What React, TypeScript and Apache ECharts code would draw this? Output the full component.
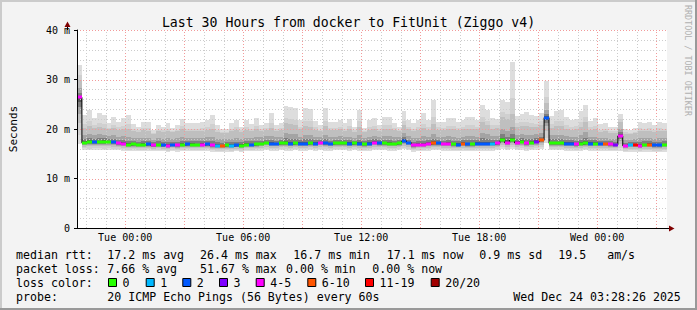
import { useEffect, useRef } from 'react';
import * as echarts from 'echarts';

const TITLE = 'Last 30 Hours from docker to FitUnit (Ziggo v4)';
const WATERMARK = 'RRDTOOL / TOBI OETIKER';
const Y_NAME = 'Seconds';
const SPAN_HOURS = 30;
const BUCKET_HOURS = 0.25;
const FIRST_CLOCK_HOUR = 22; // first full hour after the start (21:33)
const FIRST_HOUR_OFFSET = 0.45; // hours from start to 22:00
const TIME_LABELS = ['Tue 00:00', 'Tue 06:00', 'Tue 12:00', 'Tue 18:00', 'Wed 00:00'];
const TIME_LABEL_HOURS = [2.45, 8.45, 14.45, 20.45, 26.45];

// per-bucket ping statistics (ms), 15 min buckets
const MAX_RTT = [
  33.0, 22.9, 23.9, 22.3, 23.2, 22.9, 21.2, 22.5, 21.5, 22.2,
  22.9, 21.0, 20.5, 21.5, 21.5, 19.8, 20.8, 20.5, 21.2, 20.2,
  20.8, 22.1, 21.2, 21.2, 21.2, 21.5, 21.9, 22.9, 20.8, 20.0,
  20.0, 21.2, 21.8, 20.5, 21.8, 21.0, 22.2, 20.8, 21.2, 23.2,
  20.8, 21.3, 24.7, 24.5, 24.2, 21.9, 24.2, 24.0, 21.7, 20.8,
  24.2, 21.5, 21.4, 21.9, 21.2, 22.0, 20.5, 23.9, 20.2, 21.8,
  22.2, 20.8, 22.4, 22.5, 21.2, 20.5, 23.6, 21.8, 21.2, 21.9,
  23.2, 21.9, 25.8, 21.5, 21.4, 22.2, 22.2, 21.5, 21.9, 22.4,
  22.4, 21.8, 24.9, 23.8, 22.2, 22.1, 25.9, 25.5, 33.6, 22.7,
  23.0, 23.4, 22.8, 22.7, 23.3, 29.6, 22.7, 23.7, 23.9, 22.4,
  21.9, 22.0, 23.6, 24.9, 21.7, 22.2, 21.0, 21.2, 20.5, 20.5,
  23.1, 20.1, 19.7, 20.2, 21.5, 21.2, 21.5, 20.8, 21.5, 21.2,
];
const UPPER_RTT = [
  30.0, 20.3, 20.6, 20.2, 20.5, 20.3, 19.9, 20.2, 19.8, 20.0,
  20.1, 19.6, 19.4, 19.7, 19.6, 19.0, 19.5, 19.4, 19.6, 19.3,
  19.5, 19.9, 19.6, 19.6, 19.5, 19.6, 19.8, 20.1, 19.4, 19.2,
  19.2, 19.5, 19.7, 19.4, 19.7, 19.5, 19.9, 19.6, 19.8, 20.3,
  19.6, 19.8, 21.3, 21.0, 20.8, 19.9, 20.6, 20.5, 19.8, 19.5,
  20.6, 19.7, 19.7, 19.9, 19.6, 19.9, 19.4, 20.5, 19.3, 19.8,
  20.0, 19.6, 20.1, 20.1, 19.7, 19.5, 20.8, 19.9, 19.5, 19.7,
  20.2, 19.8, 21.0, 19.8, 19.7, 20.0, 19.9, 19.7, 19.9, 20.1,
  20.1, 19.9, 21.5, 20.8, 20.1, 20.2, 22.5, 22.0, 23.0, 20.5,
  20.6, 20.6, 20.4, 20.4, 20.8, 25.2, 20.3, 20.6, 20.6, 20.0,
  19.8, 19.9, 20.4, 21.5, 19.8, 19.9, 19.4, 19.5, 19.2, 19.2,
  21.5, 19.0, 18.9, 19.1, 19.6, 19.5, 19.6, 19.4, 19.6, 19.5,
];
const MEDIAN_RTT = [
  26.4, 17.2, 17.4, 17.3, 17.3, 17.4, 17.4, 17.3, 17.1, 17.0,
  16.8, 16.9, 16.8, 16.8, 16.9, 16.7, 16.8, 16.7, 16.6, 16.8,
  16.7, 16.8, 16.9, 16.8, 16.8, 16.8, 16.9, 16.7, 16.6, 16.6,
  16.7, 16.6, 16.7, 16.6, 16.8, 16.8, 16.9, 17.0, 17.2, 17.0,
  17.0, 17.1, 17.1, 17.0, 17.1, 17.0, 17.0, 17.1, 17.0, 17.2,
  17.1, 17.0, 17.1, 17.1, 17.1, 17.0, 17.1, 17.0, 16.9, 17.0,
  17.2, 17.1, 17.1, 17.0, 17.0, 17.1, 17.6, 17.2, 16.7, 16.8,
  16.8, 17.0, 17.1, 17.1, 17.0, 17.0, 16.9, 16.8, 17.0, 16.9,
  16.9, 17.0, 17.0, 17.0, 17.0, 17.1, 17.7, 17.2, 17.7, 17.2,
  17.4, 17.1, 17.2, 17.4, 17.7, 22.3, 17.1, 17.1, 17.1, 17.0,
  17.0, 16.9, 17.0, 17.1, 17.0, 17.0, 17.0, 17.0, 16.9, 16.8,
  18.6, 16.6, 16.8, 16.8, 16.6, 16.8, 16.8, 16.7, 16.7, 16.8,
];
const MIN_RTT = [
  17.0, 15.8, 15.7, 15.8, 15.8, 15.7, 15.8, 15.7, 15.7, 15.6,
  15.5, 15.6, 15.5, 15.5, 15.6, 15.5, 15.5, 15.5, 15.4, 15.5,
  15.4, 15.5, 15.6, 15.5, 15.5, 15.5, 15.6, 15.4, 15.4, 15.3,
  15.4, 15.4, 15.5, 15.4, 15.5, 15.5, 15.6, 15.6, 15.7, 15.6,
  15.6, 15.7, 15.6, 15.6, 15.7, 15.6, 15.6, 15.7, 15.6, 15.7,
  15.6, 15.6, 15.7, 15.7, 15.7, 15.6, 15.7, 15.6, 15.5, 15.6,
  15.7, 15.7, 15.7, 15.6, 15.6, 15.7, 15.9, 15.7, 15.4, 15.5,
  15.5, 15.6, 15.7, 15.7, 15.6, 15.6, 15.5, 15.5, 15.6, 15.5,
  15.5, 15.6, 15.6, 15.6, 15.6, 15.7, 16.0, 15.7, 16.0, 15.7,
  15.8, 15.6, 15.7, 15.8, 16.0, 17.2, 15.7, 15.7, 15.7, 15.6,
  15.6, 15.5, 15.6, 15.7, 15.6, 15.6, 15.6, 15.6, 15.5, 15.5,
  15.6, 15.3, 15.4, 15.4, 15.3, 15.4, 15.4, 15.3, 15.3, 15.4,
];
// index into LOSS_COLORS
const LOSS_IDX = [
  4, 0, 0, 2, 0, 0, 0, 2, 4, 4,
  0, 0, 0, 0, 2, 4, 0, 2, 4, 2,
  4, 0, 2, 0, 0, 4, 2, 4, 1, 5,
  0, 1, 2, 0, 0, 2, 0, 0, 0, 2,
  2, 0, 0, 2, 0, 2, 2, 0, 2, 4,
  2, 2, 0, 0, 0, 2, 0, 2, 0, 2,
  4, 2, 0, 0, 0, 0, 2, 2, 4, 4,
  4, 4, 5, 2, 4, 4, 0, 2, 5, 2,
  0, 2, 2, 2, 1, 4, 0, 4, 0, 4,
  0, 4, 0, 3, 5, 2, 0, 0, 0, 2,
  2, 4, 0, 0, 2, 0, 2, 5, 4, 3,
  4, 4, 1, 6, 4, 0, 5, 2, 2, 0,
];
const LOSS_COLORS = ['#26ff00', '#00b8ff', '#0059ff', '#7e00ff', '#ff00ff', '#ff5500', '#ff0000', '#a10000'];
const LOSS_LABELS = ['0', '1', '2', '3', '4-5', '6-10', '11-19', '20/20'];

const RTT_STATS = ['median rtt:', '17.2 ms avg', '26.4 ms max', '16.7 ms min', '17.1 ms now', '0.9 ms sd', '19.5   am/s'];
const LOSS_STATS = ['packet loss:', '7.66 % avg', '51.67 % max', '0.00 % min', '0.00 % now'];
const LOSS_TITLE = 'loss color:';
const PROBE = ['probe:', '20 ICMP Echo Pings (56 Bytes) every 60s'];
const STAMP = 'Wed Dec 24 03:28:26 2025';

// layout
const RTT_X = [16, 107.3, 200, 293.3, 386.7, 479.3, 558.3];
const LOSS_X = [16, 107.3, 200, 286, 372.3];
const BOX_X = [108, 145.7, 182.3, 219, 255.7, 307.3, 365, 430.7];
const ROW_Y = [254.5, 268.5, 282.5, 296.5];
const MONO = '"DejaVu Sans Mono", monospace';
const LEG_FONT = `11.6px ${MONO}`;

export default function App() {
  const ref = useRef<HTMLDivElement>(null);

  useEffect(() => {
    if (!ref.current) return;
    const chart = echarts.init(ref.current, undefined, { renderer: 'svg' });

    const smokeData = MEDIAN_RTT.map((m, i) => [i * BUCKET_HOURS, MIN_RTT[i], m, UPPER_RTT[i], MAX_RTT[i]]);
    const medData = MEDIAN_RTT.map((m, i) => [i * BUCKET_HOURS, m, LOSS_IDX[i]]);
    const stepData = MEDIAN_RTT.map((m, i) => [i * BUCKET_HOURS, m]);
    stepData.push([SPAN_HOURS, MEDIAN_RTT[MEDIAN_RTT.length - 1]]);

    const vGrid: number[][] = [];
    for (let k = 0; FIRST_HOUR_OFFSET + k < SPAN_HOURS; k++) {
      const clock = (FIRST_CLOCK_HOUR + k) % 24;
      vGrid.push([FIRST_HOUR_OFFSET + k, clock % 3 === 0 ? 1 : 0]);
    }
    const hGrid: number[][] = [];
    for (let v = 2; v <= 40; v += 2) hGrid.push([0, v, v % 10 === 0 ? 1 : 0]);

    const smokeRender = (params: any, api: any) => {
      const t = api.value(0);
      const lo = api.value(1);
      const med = api.value(2);
      const up = api.value(3);
      const hi = api.value(4);
      const x0 = Math.round(api.coord([t, 0])[0]);
      const x1 = Math.round(api.coord([t + BUCKET_HOURS, 0])[0]);
      const y = (v: number) => Math.round(api.coord([t, v])[1]);
      const bands: [number, number, string][] = [
        [lo, hi, '#dddddd'],
        [lo + 0.2 * (med - lo), up + 0.3 * (hi - up), '#d0d0d0'],
        [lo + 0.45 * (med - lo), up, '#bfbfbf'],
        [lo + 0.65 * (med - lo), med + 0.5 * (up - med), '#a4a4a4'],
        [lo + 0.8 * (med - lo), med + 0.25 * (up - med), '#7e7e7e'],
        [lo + 0.9 * (med - lo), med + 0.1 * (up - med), '#585858'],
      ];
      return {
        type: 'group',
        children: bands.map(([a, b, c]) => {
          const ya = y(a);
          const yb = y(b);
          return { type: 'rect', shape: { x: x0, y: yb, width: x1 - x0, height: Math.max(ya - yb, 1) }, style: { fill: c } };
        }),
      };
    };

    const medRender = (params: any, api: any) => {
      const t = api.value(0);
      const m = api.value(1);
      const c = LOSS_COLORS[api.value(2)];
      const x0 = Math.round(api.coord([t, 0])[0]);
      const x1 = Math.round(api.coord([t + BUCKET_HOURS, 0])[0]);
      const ym = Math.round(api.coord([t, m])[1]);
      return { type: 'rect', shape: { x: x0, y: ym - 1.5, width: x1 - x0, height: 3 }, style: { fill: c } };
    };

    const vGridRender = (params: any, api: any) => {
      const h = api.value(0);
      const major = api.value(1) === 1;
      const x = Math.round(api.coord([h, 0])[0]) + 0.5;
      const yb = api.coord([h, 0])[1];
      const yt = api.coord([h, 40])[1];
      return {
        type: 'line',
        shape: { x1: x, y1: yb, x2: x, y2: yt },
        style: { stroke: major ? '#f29a9a' : '#cccccc', lineWidth: 1, lineDash: [1, 2] },
      };
    };
    const hGridRender = (params: any, api: any) => {
      const v = api.value(1);
      const major = api.value(2) === 1;
      const y = Math.round(api.coord([0, v])[1]) + 0.5;
      const xl = api.coord([0, v])[0];
      const xr = api.coord([SPAN_HOURS, v])[0];
      return {
        type: 'line',
        shape: { x1: xl, y1: y, x2: xr, y2: y },
        style: { stroke: major ? '#f29a9a' : '#cccccc', lineWidth: 1, lineDash: [1, 2] },
      };
    };

    const txt = (text: string, x: number, y: number, extra: any = {}) => ({
      type: 'text',
      x,
      y,
      silent: true,
      style: {
        text,
        font: LEG_FONT,
        fill: '#000',
        textAlign: 'left',
        align: 'left',
        textVerticalAlign: 'middle',
        verticalAlign: 'middle',
        ...extra,
      },
    });

    const graphics: any[] = [
      { type: 'rect', shape: { x: 0, y: 0, width: 697, height: 2 }, style: { fill: '#cbcbcb' } },
      { type: 'rect', shape: { x: 0, y: 0, width: 2, height: 310 }, style: { fill: '#cbcbcb' } },
      { type: 'rect', shape: { x: 0, y: 308, width: 697, height: 2 }, style: { fill: '#999999' } },
      { type: 'rect', shape: { x: 695, y: 0, width: 2, height: 310 }, style: { fill: '#999999' } },
      // axis extensions and arrows
      { type: 'line', shape: { x1: 67.5, y1: 30, x2: 67.5, y2: 26 }, style: { stroke: '#000', lineWidth: 1 }, z: 20 },
      { type: 'polygon', shape: { points: [[67.5, 21.5], [64.5, 27], [70.5, 27]] }, style: { fill: '#7f0000' }, z: 20 },
      { type: 'line', shape: { x1: 667, y1: 228.5, x2: 670, y2: 228.5 }, style: { stroke: '#000', lineWidth: 1 }, z: 20 },
      { type: 'polygon', shape: { points: [[674.5, 228.5], [669, 225.5], [669, 231.5]] }, style: { fill: '#7f0000' }, z: 20 },
      {
        type: 'text',
        x: 691.5,
        y: 5,
        rotation: -Math.PI / 2,
        silent: true,
        style: {
          text: WATERMARK,
          font: `8.4px ${MONO}`,
          fill: '#b0b0b0',
          textAlign: 'left',
          align: 'left',
          textVerticalAlign: 'top',
          verticalAlign: 'top',
        },
      },
    ];
    RTT_STATS.forEach((s, i) => graphics.push(txt(s, RTT_X[i], ROW_Y[0])));
    LOSS_STATS.forEach((s, i) => graphics.push(txt(s, LOSS_X[i], ROW_Y[1])));
    graphics.push(txt(LOSS_TITLE, 16, ROW_Y[2]));
    LOSS_LABELS.forEach((lab, i) => {
      graphics.push({
        type: 'rect',
        shape: { x: BOX_X[i] + 0.5, y: ROW_Y[2] - 4, width: 8, height: 8 },
        style: { fill: LOSS_COLORS[i], stroke: '#000', lineWidth: 1 },
      });
      graphics.push(txt(lab, BOX_X[i] + 14.5, ROW_Y[2]));
    });
    graphics.push(txt(PROBE[0], 16, ROW_Y[3]));
    graphics.push(txt(PROBE[1], 107.3, ROW_Y[3]));
    graphics.push(txt(STAMP, 513.3, ROW_Y[3]));

    chart.setOption({
      animation: false,
      backgroundColor: '#f3f3f3',
      title: {
        text: TITLE,
        left: 'center',
        top: 11,
        textStyle: { fontFamily: MONO, fontSize: 13.2, fontWeight: 'normal', color: '#000' },
      },
      grid: {
        left: 67,
        right: 30,
        top: 30,
        bottom: 82,
        show: true,
        backgroundColor: '#ffffff',
        borderWidth: 0,
      },
      xAxis: {
        type: 'value',
        min: 0,
        max: SPAN_HOURS,
        z: 10,
        axisLine: { show: true, lineStyle: { color: '#000', width: 1 } },
        axisTick: { show: false },
        splitLine: { show: false },
        axisLabel: {
          customValues: TIME_LABEL_HOURS,
          margin: 4,
          fontFamily: MONO,
          fontSize: 10,
          color: '#000',
          formatter: (v: number) => {
            let best = 0;
            TIME_LABEL_HOURS.forEach((h, i) => {
              if (Math.abs(h - v) < Math.abs(TIME_LABEL_HOURS[best] - v)) best = i;
            });
            return TIME_LABELS[best];
          },
        },
      },
      yAxis: {
        type: 'value',
        min: 0,
        max: 40,
        interval: 10,
        z: 10,
        name: Y_NAME,
        nameLocation: 'middle',
        nameRotate: 90,
        nameGap: 58,
        nameTextStyle: { fontFamily: MONO, fontSize: 11, color: '#000' },
        axisLine: { show: true, lineStyle: { color: '#000', width: 1 } },
        axisTick: { show: true, length: 3, lineStyle: { color: '#000' } },
        splitLine: { show: false },
        axisLabel: {
          margin: 7,
          fontFamily: MONO,
          fontSize: 10,
          color: '#000',
          formatter: (v: number) => (v === 0 ? '0' : `${v} m`),
        },
      },
      graphic: { elements: graphics },
      series: [
        {
          type: 'custom',
          name: 'smoke',
          z: 2,
          renderItem: smokeRender,
          data: smokeData,
          encode: { x: 0, y: 2 },
          silent: true,
        },
        {
          type: 'custom',
          name: 'vgrid',
          z: 3,
          renderItem: vGridRender,
          data: vGrid,
          encode: { x: 0, y: 1 },
          silent: true,
        },
        {
          type: 'custom',
          name: 'hgrid',
          z: 3,
          renderItem: hGridRender,
          data: hGrid,
          encode: { x: 0, y: 1 },
          silent: true,
        },
        {
          type: 'line',
          name: 'median-step',
          z: 4,
          step: 'end',
          data: stepData,
          symbol: 'none',
          lineStyle: { color: '#000', width: 1 },
          silent: true,
        },
        {
          type: 'custom',
          name: 'median',
          z: 5,
          renderItem: medRender,
          data: medData,
          encode: { x: 0, y: 1 },
          silent: true,
        },
      ],
    });

    return () => chart.dispose();
  }, []);

  return (
    <div
      ref={ref}
      style={{ position: 'absolute', left: 0, top: 0, width: 697, height: 310 }}
    />
  );
}
